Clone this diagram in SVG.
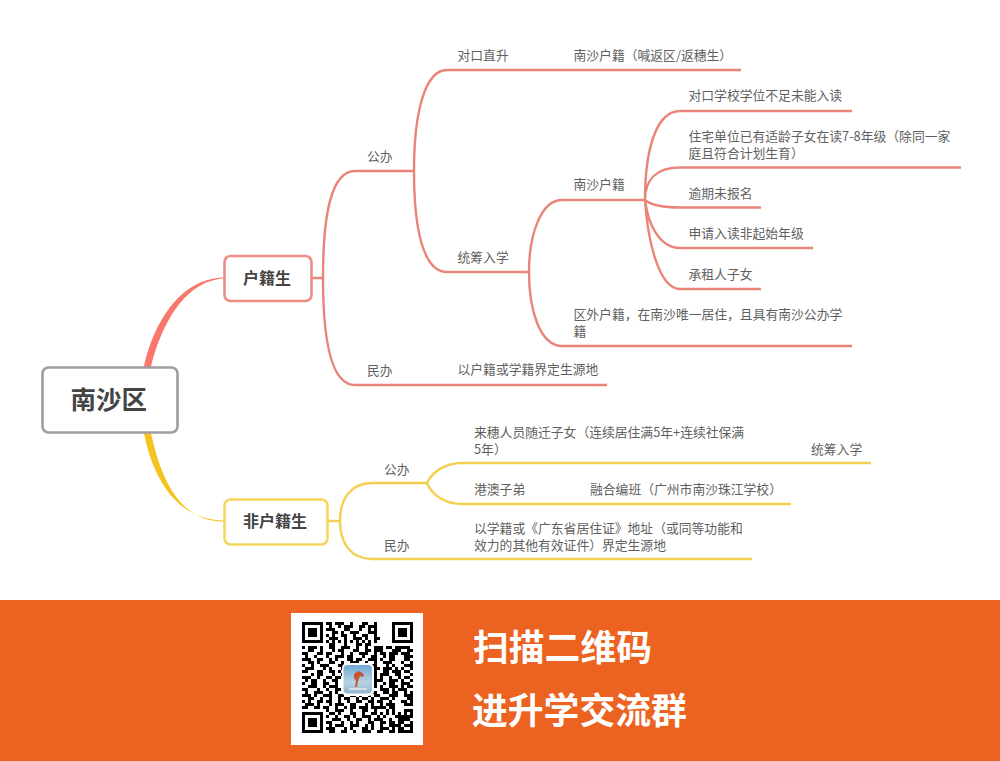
<svg xmlns="http://www.w3.org/2000/svg" xmlns:xlink="http://www.w3.org/1999/xlink" width="1000" height="761" viewBox="0 0 1000 761">
<style>
text{font-family:"Noto Sans CJK SC","Noto Sans",sans-serif}
.t{font-size:12.8px;fill:#5f5f5f}
.n{fill:#fff;stroke-width:2.6}
.b{font-size:16px;font-weight:700;fill:#444}
.r{fill:none;stroke:#e98478;stroke-width:2.4}
.y{fill:none;stroke:#f3cf52;stroke-width:2.4}
.f{font-size:35.8px;font-weight:700;fill:#fff}
</style>
<defs>
<g id="finder"><rect x="1.5" y="1.5" width="18" height="18" fill="#fff" stroke="#000" stroke-width="3"/><rect x="6" y="6" width="9" height="9" fill="#000"/></g>
<linearGradient id="sky" x1="0" y1="0" x2="0" y2="1"><stop offset="0" stop-color="#6fa9d6"/><stop offset="0.6" stop-color="#b7d3e3"/><stop offset="1" stop-color="#8fb6cf"/></linearGradient>
</defs>
<rect width="1000" height="761" fill="#fff"/>
<g id="connectors">
<path d="M144,367C152,328 178,278 224,277.500V278.500C182,281 160,330 151,367Z" fill="#f8786c"/>
<path d="M144,433C151,470 172,520 224,520.500V521.500C178,522 160,475 151,433Z" fill="#f5c31c"/>
<path class="r" d="M311,278H323M323,278C323,215 331,171 355,171H414M323,278C323,341 331,385 355,385H607"/>
<path class="r" d="M414,171C414,112 425,70 447,70H741M414,171C414,225 422,272 447,272H529"/>
<path class="r" d="M529,272C529,237 540,200 562,200H645M529,272C529,310 540,346 562,346H852"/>
<path class="r" d="M645,200C645,150 656,111 680,111H852M645,200C645,180 656,167.500 680,167.500H961M645,200C650,204 662,207.500 680,207.500H761M645,200C648,225 660,248 680,248H813M645,200C648,245 660,289 680,289H761"/>
<path class="y" d="M328,521H340M340,521C340,500 350,483 372,483H427M340,521C340,542 350,559 372,559H752"/>
<path class="y" d="M427,483C432,472 445,463 462,463H871M427,483C432,495 445,504 462,504H791"/>
</g>
<g id="root"><rect class="n" x="42.500" y="367.500" width="135" height="65" rx="6" stroke="#a09ca0"/><text x="70.500" y="409" font-size="25.500" font-weight="700" fill="#444">南沙区</text></g>
<g id="node-huji"><rect class="n" x="224.500" y="256" width="87" height="45" rx="6" stroke="#ee8d84"/><text class="b" x="243" y="284">户籍生</text></g>
<g id="node-feihuji"><rect class="n" x="224.500" y="499.500" width="103" height="45" rx="6" stroke="#f6d75e"/><text class="b" x="243" y="527">非户籍生</text></g>
<g id="labels-huji">
<text class="t" x="367" y="160.500">公办</text>
<text class="t" x="457.500" y="60">对口直升</text>
<text class="t" x="573.500" y="60">南沙户籍（喊返区/返穗生）</text>
<text class="t" x="457.500" y="262">统筹入学</text>
<text class="t" x="573.500" y="189">南沙户籍</text>
<text class="t" x="688.500" y="100">对口学校学位不足未能入读</text>
<text class="t" x="688.500" y="140.500">住宅单位已有适龄子女在读7-8年级（除同一家</text>
<text class="t" x="688.500" y="157.500">庭且符合计划生育）</text>
<text class="t" x="688.500" y="198">逾期未报名</text>
<text class="t" x="688.500" y="238">申请入读非起始年级</text>
<text class="t" x="688.500" y="279">承租人子女</text>
<text class="t" x="573.500" y="319">区外户籍，在南沙唯一居住，且具有南沙公办学</text>
<text class="t" x="573.500" y="336">籍</text>
<text class="t" x="367" y="374.500">民办</text>
<text class="t" x="457.500" y="374">以户籍或学籍界定生源地</text>
</g>
<g id="labels-feihuji">
<text class="t" x="384" y="473.500">公办</text>
<text class="t" x="474" y="437">来穗人员随迁子女（连续居住满5年+连续社保满</text>
<text class="t" x="474" y="454">5年）</text>
<text class="t" x="811" y="454">统筹入学</text>
<text class="t" x="474" y="494">港澳子弟</text>
<text class="t" x="590" y="494">融合编班（广州市南沙珠江学校）</text>
<text class="t" x="474" y="532.500">以学籍或《广东省居住证》地址（或同等功能和</text>
<text class="t" x="474" y="549.500">效力的其他有效证件）界定生源地</text>
<text class="t" x="384" y="549.500">民办</text>
</g>
<g id="footer">
<rect y="600" width="1000" height="161" fill="#ec6220"/>
<rect x="291" y="613" width="132" height="132" fill="#fff"/>
<g transform="translate(302,622) scale(3)">
<path fill="none" stroke="#000" stroke-width="1.05" d="
M8 .5h2m1 0h3m2 0h1m3 0h2m2 0h1
M9 1.500h1m2 0h1m1 0h3m2 0h2m1 0h3
M8 2.500h3m3 0h2m3 0h1m2 0h1m1 0h1
M10 3.500h2m1 0h1m2 0h3m3 0h3
M8 4.500h1m1 0h1m2 0h2m2 0h1m2 0h2m2 0h1
M9 5.500h3m2 0h1m2 0h3m1 0h1m2 0h2
M8 6.500h1m1 0h1m1 0h1m1 0h1m1 0h1m1 0h1m1 0h1m1 0h1m1 0h1
M9 7.500h2m3 0h1m3 0h2m1 0h2
M0 8.500h1m1 0h3m1 0h1m2 0h2m2 0h3m2 0h1m2 0h1m2 0h3m1 0h2m1 0h2
M2 9.500h2m2 0h1m3 0h1m1 0h2m3 0h2m2 0h2m1 0h3m3 0h1
M0 10.500h2m3 0h2m1 0h2m3 0h1m2 0h1m2 0h3m2 0h1m1 0h2m2 0h2
M1 11.500h1m2 0h1m3 0h1m2 0h3m1 0h2m3 0h1m2 0h2m2 0h1m1 0h2
M0 12.500h3m2 0h2m2 0h1m1 0h1m3 0h2m1 0h2m2 0h3m1 0h1m2 0h2
M2 13.500h2m1 0h1m3 0h2m2 0h1m2 0h3m2 0h1m2 0h1m2 0h3
M0 14.500h1m2 0h1m2 0h3m3 0h2m2 0h1m3 0h2m1 0h2m3 0h1m1 0h1
M1 15.500h3m3 0h1m1 0h1m3 0h3m8 0h2m1 0h3m1 0h1m1 0h1
M0 16.500h2m3 0h2m2 0h2m1 0h1m10 0h2m2 0h2m1 0h3
M3 17.500h1m1 0h2m3 0h1m2 0h1m10 0h1m1 0h3m2 0h2
M0 18.500h3m2 0h1m2 0h2m1 0h2m10 0h2m1 0h1m2 0h1m2 0h1
M1 19.500h1m1 0h2m2 0h1m2 0h2m12 0h3m2 0h3m1 0h1
M0 20.500h1m2 0h2m2 0h2m2 0h1m12 0h1m2 0h1m1 0h2m2 0h1
M2 21.500h3m2 0h1m1 0h3m11 0h2m1 0h1m2 0h3m1 0h1
M0 22.500h2m3 0h1m2 0h1m2 0h2m10 0h1m2 0h3m1 0h1m1 0h2
M1 23.500h1m2 0h3m2 0h1m1 0h1m2 0h1m2 0h2m1 0h2m1 0h2m2 0h2m1 0h2
M0 24.500h3m1 0h1m2 0h3m2 0h2m2 0h2m1 0h1m2 0h1m1 0h2m3 0h2
M2 25.500h2m2 0h1m2 0h1m2 0h1m1 0h2m2 0h1m1 0h2m1 0h1m2 0h3m1 0h1
M0 26.500h1m1 0h1m2 0h2m1 0h2m2 0h1m2 0h1m2 0h2m2 0h2m1 0h2m2 0h1
M1 27.500h3m1 0h1m3 0h1m1 0h3m2 0h2m3 0h1m1 0h1m2 0h1m1 0h3
M0 28.500h2m2 0h2m1 0h2m2 0h1m2 0h1m1 0h2m1 0h3m1 0h5m1 0h2
M8 29.500h1m2 0h3m2 0h1m3 0h2m2 0h1m3 0h1m1 0h1m3 0h1
M9 30.500h2m1 0h1m3 0h2m2 0h1m2 0h2m1 0h1m1 0h1m1 0h1m1 0h1
M8 31.500h1m2 0h1m2 0h2m1 0h1m2 0h3m2 0h1m1 0h1m3 0h3
M10 32.500h3m2 0h1m2 0h2m2 0h1m1 0h3m2 0h1m2 0h2
M8 33.500h2m3 0h1m2 0h1m1 0h1m3 0h2m2 0h2m1 0h2m1 0h1
M9 34.500h1m1 0h3m2 0h3m2 0h1m1 0h1m2 0h1m2 0h1m1 0h2
M8 35.500h3m3 0h1m1 0h1m3 0h2m1 0h1m2 0h3m1 0h1m2 0h1
M9 36.500h2m2 0h2m2 0h1m2 0h3m2 0h2m2 0h2m1 0h2
M33 8.500h3M31 9.500h2m2 0h2M29 10.500h1m3 0h3M34 11.500h3M30 12.500h1m3 0h2M33 13.500h1m2 0h1M34 14.500h3M29 15.500h1m3 0h1m2 0h1M30 16.500h1m3 0h2M31 17.500h1m4 0h1M34 18.500h2M29 19.500h2m5 0h1M33 20.500h3M35 21.500h2M32 22.500h3M34 23.500h1m1 0h1M31 24.500h1m2 0h3M35 25.500h2M33 26.500h2m1 0h1M34 27.500h3M34 29.500h3M30 30.500h1m3 0h1m1 0h1M34 31.500h3M29 32.500h1m4 0h2M33 33.500h1m2 0h1M29 34.500h2m3 0h3M32 35.500h1m3 0h1M33 36.500h4"/>
</g>
<use xlink:href="#finder" href="#finder" x="302" y="622"/>
<use xlink:href="#finder" href="#finder" x="392" y="622"/>
<use xlink:href="#finder" href="#finder" x="302" y="712"/>
<rect x="342" y="663" width="32" height="33" rx="5" fill="#fff"/>
<rect x="343.500" y="665" width="28.500" height="28.500" rx="4" fill="url(#sky)"/>
<path d="M354 674l4-3 3 1 3 3-1 2-3-1-2 5-1 6-2 0 1-6-2-3z" fill="#c8552d"/>
<rect x="349" y="688" width="18" height="2" fill="#d9dfe3"/>
<text class="f" x="473" y="661">扫描二维码</text>
<text class="f" x="472" y="724">进升学交流群</text>
</g>
</svg>
